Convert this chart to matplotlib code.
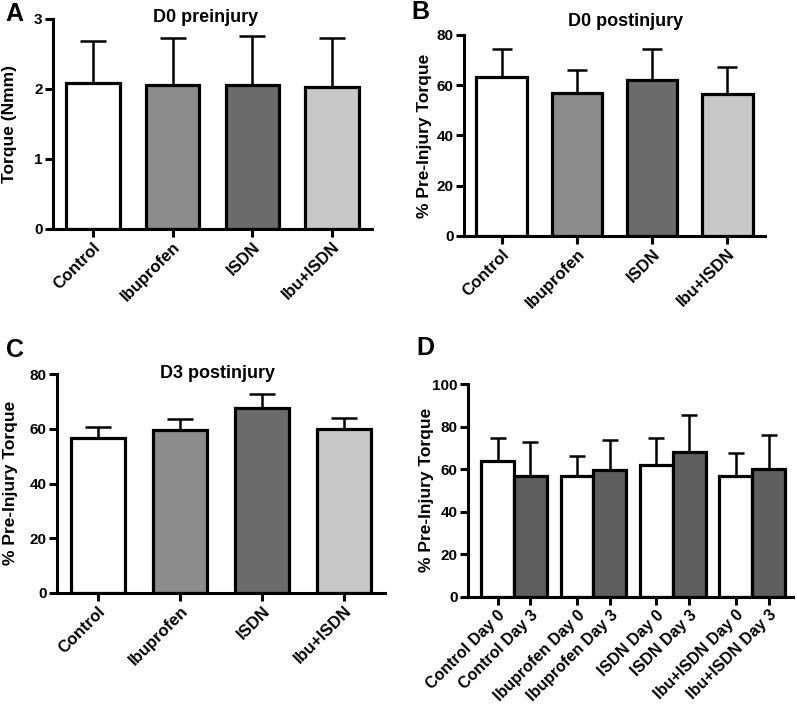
import numpy as np
import matplotlib
matplotlib.use("Agg")
import matplotlib.pyplot as plt

plt.rcParams['font.family'] = ['Liberation Sans', 'DejaVu Sans']
plt.rcParams['font.weight'] = 'bold'

groups = ["Control", "Ibuprofen", "ISDN", "Ibu+ISDN"]
colors = ["#ffffff", "#8c8c8c", "#6b6b6b", "#c8c8c8"]

# panel A - D0 preinjury torque
a_mean = [2.09, 2.06, 2.06, 2.03]
a_err = [0.59, 0.67, 0.70, 0.70]
# panel B - D0 postinjury
b_mean = [63.4, 57.0, 62.0, 56.6]
b_err = [11.1, 9.1, 12.5, 10.7]
# panel C - D3 postinjury
c_mean = [56.6, 59.6, 67.7, 59.9]
c_err = [4.2, 4.1, 5.0, 4.2]
# panel D - day 0 vs day 3
d0_mean = [63.7, 57.0, 62.2, 57.0]
d0_err = [11.0, 9.2, 12.5, 10.4]
d3_mean = [56.6, 59.6, 68.1, 59.9]
d3_err = [16.2, 14.1, 17.3, 16.0]
d_labels = ["Control Day 0", "Control Day 3", "Ibuprofen Day 0", "Ibuprofen Day 3",
            "ISDN Day 0", "ISDN Day 3", "Ibu+ISDN Day 0", "Ibu+ISDN Day 3"]
d3_color = "#5e5e5e"

W, H = 797, 708
fig = plt.figure(figsize=(W / 100, H / 100), dpi=100)


def px_axes(x0, x1, ytop, ybot):
    return fig.add_axes([x0 / W, 1 - ybot / H, (x1 - x0) / W, (ybot - ytop) / H])


def style(ax, xsize=12):
    ax.spines['top'].set_visible(False)
    ax.spines['right'].set_visible(False)
    ax.spines['left'].set_linewidth(2.2)
    ax.spines['bottom'].set_linewidth(2.2)
    ax.tick_params(axis='both', width=2.2, length=5.5, direction='out', labelsize=11, pad=2)
    ax.tick_params(axis='x', labelsize=xsize)
    for lab in ax.get_yticklabels():
        lab.set_fontweight('bold')


def simple_panel(ax, mean, err, ymax, ystep, capsize):
    x = np.arange(len(groups))
    ax.bar(x, mean, width=0.67, color=colors, edgecolor='black', linewidth=2.3, zorder=2)
    ax.errorbar(x, mean, yerr=[np.zeros(len(err)), err], fmt='none', ecolor='black',
                elinewidth=1.8, capsize=capsize, capthick=1.8, zorder=1)
    ax.set_xlim(-0.5, 3.5)
    ax.set_ylim(0, ymax)
    ax.set_yticks(np.arange(0, ymax + 0.001, ystep))
    ax.set_xticks(x)
    ax.set_xticklabels(groups, rotation=45, ha='right', rotation_mode='anchor', fontweight='bold')
    style(ax)


axA = px_axes(53, 372, 19, 229)
simple_panel(axA, a_mean, a_err, 3, 1, 9.4)
axB = px_axes(464, 765, 35, 236)
simple_panel(axB, b_mean, b_err, 80, 20, 7.4)
axC = px_axes(57, 385, 374, 593)
simple_panel(axC, c_mean, c_err, 80, 20, 9.6)

# panel D: paired bars
axD = px_axes(468, 793, 384, 597)
g = np.arange(4) * 2.42
xd0 = g
xd3 = g + 1
axD.bar(xd0, d0_mean, width=1, color='white', edgecolor='black', linewidth=2.3, zorder=2)
axD.bar(xd3, d3_mean, width=1, color=d3_color, edgecolor='black', linewidth=2.3, zorder=2)
axD.errorbar(xd0, d0_mean, yerr=[np.zeros(4), d0_err], fmt='none', ecolor='black',
             elinewidth=1.8, capsize=6.1, capthick=1.8, zorder=1)
axD.errorbar(xd3, d3_mean, yerr=[np.zeros(4), d3_err], fmt='none', ecolor='black',
             elinewidth=1.8, capsize=6.1, capthick=1.8, zorder=1)
axD.set_xlim(-0.9, 9.0)
axD.set_ylim(0, 100)
axD.set_yticks(np.arange(0, 101, 20))
xt = np.ravel(np.column_stack([xd0, xd3]))
axD.set_xticks(xt)
axD.set_xticklabels(d_labels, rotation=45, ha='right', rotation_mode='anchor', fontweight='bold')
style(axD, xsize=11.5)

# y labels
fig.text(10 / W, 1 - 124 / H, "Torque (Nmm)", rotation=90, ha='center', va='center', fontsize=12.5)
fig.text(425 / W, 1 - 136 / H, "% Pre-Injury Torque", rotation=90, ha='center', va='center', fontsize=12.5)
fig.text(11 / W, 1 - 483 / H, "% Pre-Injury Torque", rotation=90, ha='center', va='center', fontsize=12.5)
fig.text(426 / W, 1 - 490 / H, "% Pre-Injury Torque", rotation=90, ha='center', va='center', fontsize=12.5)

# titles
fig.text(206 / W, 1 - 18 / H, "D0 preinjury", ha='center', va='center', fontsize=13)
fig.text(626 / W, 1 - 21 / H, "D0 postinjury", ha='center', va='center', fontsize=13)
fig.text(217 / W, 1 - 374 / H, "D3 postinjury", ha='center', va='center', fontsize=13)

# panel letters
fig.text(14 / W, 1 - 14 / H, "A", ha='center', va='center', fontsize=18)
fig.text(420 / W, 1 - 12 / H, "B", ha='center', va='center', fontsize=18)
fig.text(15 / W, 1 - 350 / H, "C", ha='center', va='center', fontsize=18)
fig.text(425 / W, 1 - 348 / H, "D", ha='center', va='center', fontsize=18)

fig.savefig("out.png", dpi=100)
